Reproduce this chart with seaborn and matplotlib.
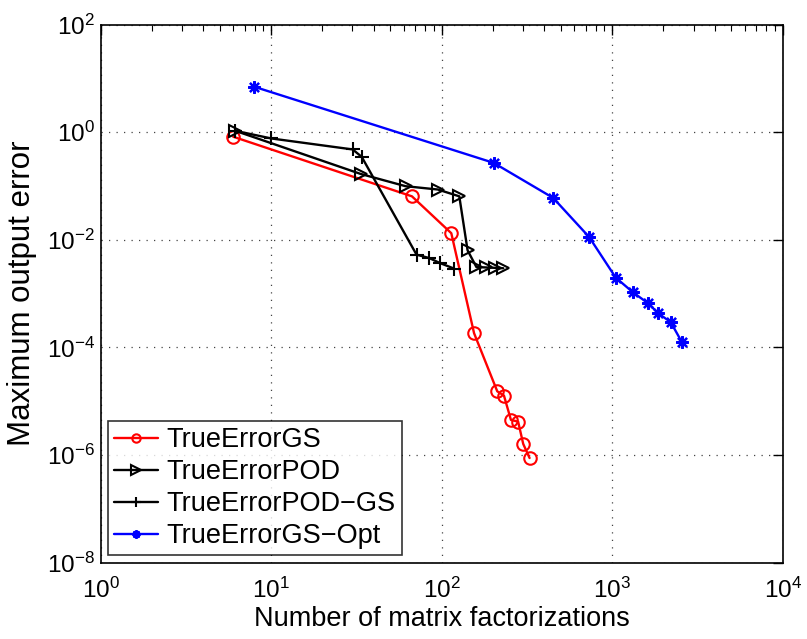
import numpy as np
import pandas as pd
import matplotlib
matplotlib.use("Agg")
import matplotlib.pyplot as plt
import seaborn as sns
from matplotlib.ticker import FixedLocator, NullLocator, NullFormatter, LogFormatterSciNotation

# ---- data ----
gs_x = [6.0, 67, 114, 155, 212, 232, 255, 281, 301, 328]
gs_y = [0.82, 0.064, 0.0132, 1.83e-4, 1.52e-5, 1.27e-5, 4.47e-6, 4.15e-6, 1.6e-6, 8.75e-7]

pod_x = [6.15, 33.5, 61.5, 95, 127, 142, 160, 182, 205, 230]
pod_y = [1.06, 0.167, 0.0987, 0.0857, 0.064, 6.35e-3, 3.1e-3, 3.05e-3, 3.0e-3, 2.95e-3]

podgs_x = [6.15, 10, 30.1, 34, 71.3, 84.6, 97.8, 118.5]
podgs_y = [1.06, 0.763, 0.476, 0.347, 5.27e-3, 4.56e-3, 3.68e-3, 2.9e-3]

opt_x = [7.95, 202, 451, 733, 1050, 1325, 1623, 1867, 2204, 2570]
opt_y = [6.98, 0.268, 0.0598, 0.0112, 1.97e-3, 1.05e-3, 6.6e-4, 4.26e-4, 2.94e-4, 1.23e-4]

series_names = ["TrueErrorGS", "TrueErrorPOD", "TrueErrorPOD\u2212GS", "TrueErrorGS\u2212Opt"]
xlabel = "Number of matrix factorizations"
ylabel = "Maximum output error"
x_ticks = [1, 10, 100, 1000, 10000]
y_ticks = [1e-8, 1e-6, 1e-4, 1e-2, 1, 1e2]

frames = []
for name, xs, ys in zip(series_names, [gs_x, pod_x, podgs_x, opt_x], [gs_y, pod_y, podgs_y, opt_y]):
    frames.append(pd.DataFrame({"x": xs, "y": ys, "series": name}))
df = pd.concat(frames, ignore_index=True)

sns.set_style("white")
plt.rcParams["font.family"] = ["Liberation Sans", "DejaVu Sans"]
plt.rcParams["mathtext.fontset"] = "custom"
plt.rcParams["mathtext.rm"] = "Liberation Sans"
plt.rcParams["mathtext.default"] = "regular"
plt.rcParams["text.color"] = "black"
plt.rcParams["axes.labelcolor"] = "black"
plt.rcParams["xtick.color"] = "black"
plt.rcParams["ytick.color"] = "black"

W, H = 807, 639
fig = plt.figure(figsize=(W / 100, H / 100), dpi=100)
L, R, T, B = 100.5, 782.7, 24.5, 562.5
ax = fig.add_axes([L / W, 1 - B / H, (R - L) / W, (B - T) / H])

asterisk = (8, 2, 0)
styles = {
    series_names[0]: dict(color="#ff0000", marker="o", mfc="none", ms=9, mew=1.5, lms=6),
    series_names[1]: dict(color="black", marker=">", mfc="none", ms=9, mew=1.5, lms=7),
    series_names[2]: dict(color="black", marker="+", mfc="black", ms=10, mew=1.5, lms=7),
    series_names[3]: dict(color="#0000ff", marker=asterisk, mfc="#0000ff", ms=9, mew=1.6, lms=6),
}

for name in series_names:
    sub = df[df["series"] == name]
    st = styles[name]
    sns.lineplot(data=sub, x="x", y="y", sort=False, ax=ax, color=st["color"], lw=1.7,
                 marker=st["marker"], markersize=st["ms"], markerfacecolor=st["mfc"],
                 markeredgecolor=st["color"], markeredgewidth=st["mew"], label=name,
                 estimator=None)

ax.set_xscale("log")
ax.set_yscale("log")
ax.set_xlim(1, 1e4)
ax.set_ylim(1e-8, 1e2)

minor_x = [m * 10 ** d for d in range(4) for m in range(2, 10)]
ax.xaxis.set_major_locator(FixedLocator(x_ticks))
ax.xaxis.set_major_formatter(LogFormatterSciNotation())
ax.xaxis.set_minor_locator(FixedLocator(minor_x))
ax.xaxis.set_minor_formatter(NullFormatter())
ax.yaxis.set_major_locator(FixedLocator(y_ticks))
ax.yaxis.set_major_formatter(LogFormatterSciNotation())
ax.yaxis.set_minor_locator(NullLocator())
ax.yaxis.set_minor_formatter(NullFormatter())

ax.tick_params(which="both", direction="in", top=True, right=True, labelsize=17.5,
               colors="black", labelcolor="black")
ax.tick_params(axis="x", which="major", pad=11)
ax.tick_params(axis="y", which="major", pad=4)
ax.tick_params(which="major", length=7, width=1)
ax.tick_params(which="minor", length=4, width=0.8)

ax.grid(True, which="major", linestyle=(0, (1, 5)), color="#444444", linewidth=0.9)
for s in ax.spines.values():
    s.set_color("black")
    s.set_linewidth(1.2)
    s.set_visible(True)

ax.set_xlabel(xlabel, fontsize=19.5, color="black")
ax.set_ylabel(ylabel, fontsize=22.5, color="black")
ax.xaxis.set_label_coords((0.5 * (253 + 630) - L) / (R - L), -(606 - B) / (B - T))
ax.yaxis.set_label_coords(-(L - 37) / (R - L), 0.5)

leg = ax.legend(loc="lower left", fontsize=19.5, frameon=True, fancybox=False, edgecolor="black",
                borderaxespad=0.27, handlelength=1.65, handletextpad=0.3, labelspacing=0.22,
                borderpad=0.22)
leg.get_frame().set_linewidth(1.2)
for text in leg.get_texts():
    text.set_color("black")
for line, name in zip(leg.get_lines(), series_names):
    line.set_markersize(styles[name]["lms"])
    line.set_linewidth(1.7)

fig.savefig("out.png", dpi=100)
